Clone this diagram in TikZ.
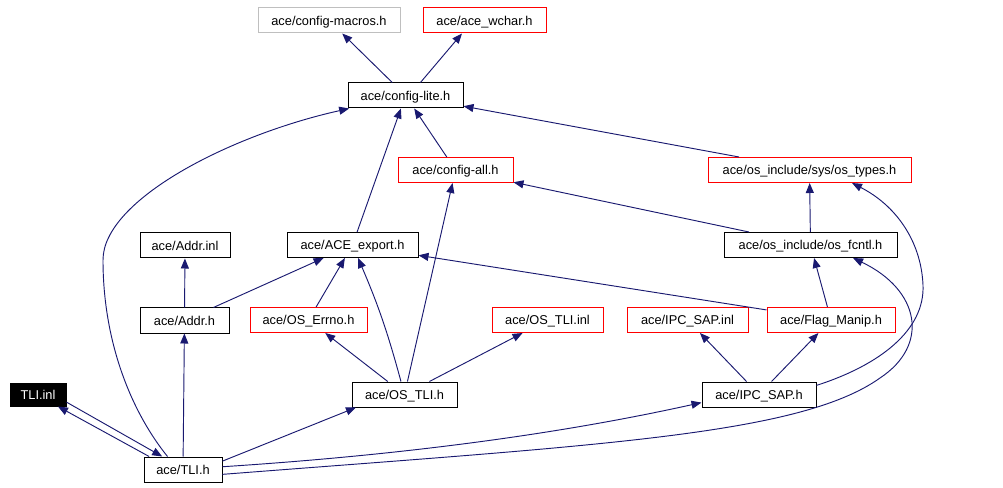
\documentclass[tikz,border=0pt]{standalone}
\usepackage{fontspec}
\setmainfont{Liberation Sans}
\usepackage{tikz}
\usetikzlibrary{arrows.meta}
\definecolor{edgeblue}{HTML}{191970}
\definecolor{hdrred}{HTML}{FF0000}
\definecolor{hdrgray}{HTML}{BFBFBF}

\begin{document}
\begin{tikzpicture}[x=0.75pt,y=-0.75pt,
  hdr/.style={draw=black,line width=0.75pt,fill=white,inner sep=0pt,
    minimum height=18.75pt,text height=7.2pt,text depth=0.3pt,
    font=\fontsize{9.6}{11}\selectfont},
  wd/.style={minimum width=#1*0.75pt},
  missing/.style={draw=hdrred},
  dep/.style={edgeblue,line width=0.7pt,-{Triangle[length=7.5pt,width=6pt]}}]
\useasboundingbox (0,0) rectangle (1003,488);
% headers, top row down
\node[hdr,wd=142,draw=hdrgray] (cmacros) at (329,20.5) {ace/config-macros.h};
\node[hdr,wd=123,missing] (wchar) at (484.5,20.5) {ace/ace\_wchar.h};
\node[hdr,wd=115] (clite) at (405.5,95.5) {ace/config-lite.h};
\node[hdr,wd=115,missing] (call) at (455.5,170) {ace/config-all.h};
\node[hdr,wd=203,missing] (ostypes) at (809.5,170) {ace/os\_include/sys/os\_types.h};
\node[hdr,wd=90] (addrinl) at (185,245.5) {ace/Addr.inl};
\node[hdr,wd=131] (aceexport) at (352.5,245) {ace/ACE\_export.h};
\node[hdr,wd=173] (osfcntl) at (810.5,245) {ace/os\_include/os\_fcntl.h};
\node[hdr,wd=89] (addrh) at (184.5,320.5) {ace/Addr.h};
\node[hdr,wd=117,missing] (oserrno) at (308.5,320) {ace/OS\_Errno.h};
\node[hdr,wd=111,missing] (ostliinl) at (547.5,320) {ace/OS\_TLI.inl};
\node[hdr,wd=121,missing] (ipcsapinl) at (687.5,320) {ace/IPC\_SAP.inl};
\node[hdr,wd=128,missing] (flagmanip) at (831,320) {ace/Flag\_Manip.h};
\node[hdr,wd=56,minimum height=17.25pt,fill=black,text=white] (tliinl) at (38,394.5) {TLI.inl};
\node[hdr,wd=105] (ostlih) at (404.5,394.5) {ace/OS\_TLI.h};
\node[hdr,wd=114] (ipcsaph) at (759,394.5) {ace/IPC\_SAP.h};
\node[hdr,wd=78] (tlih) at (183,469.5) {ace/TLI.h};
% includes
\draw[dep] (clite) -- (cmacros);
\draw[dep] (clite.41) -- (wchar.-150);
\draw[dep] (call) -- (clite);
\draw[dep] (ostypes) -- (clite);
\draw[dep] (aceexport) -- (clite);
\draw[dep] (tlih.140) .. controls (130,410) and (103,340) .. (103,260)
  .. controls (103,200) and (230,135) .. (clite.-167);
\draw[dep] (osfcntl) -- (ostypes);
\draw[dep] (osfcntl) -- (call);
\draw[dep] (ostlih) -- (call);
\draw[dep] (addrh) -- (addrinl);
\draw[dep] (addrh) -- (aceexport);
\draw[dep] (oserrno) -- (aceexport);
\draw[dep] (ostlih) to[bend right=4] (aceexport);
\draw[dep] (flagmanip) -- (aceexport);
\draw[dep] (flagmanip) -- (osfcntl);
\draw[dep] (ostlih) -- (oserrno);
\draw[dep] (ostlih) -- (ostliinl);
\draw[dep] (ipcsaph) -- (ipcsapinl);
\draw[dep] (ipcsaph) -- (flagmanip);
\draw[dep] (ipcsaph.9) .. controls (880,365) and (925,330) .. (923,285)
  .. controls (921,240) and (895,205) .. (ostypes.-17);
\draw[dep] (tliinl.-15) -- (tlih.148);
\draw[dep] (tlih.159) -- (tliinl.-31);
\draw[dep] (tlih) -- (addrh);
\draw[dep] (tlih.12) -- (ostlih.-165);
\draw[dep] (tlih.4) .. controls (450,452) and (600,425) .. (ipcsaph.-172);
\draw[dep] (tlih.-7) .. controls (600,445) and (800,435) .. (880,378)
  .. controls (930,345) and (920,290) .. (osfcntl.-17);
\end{tikzpicture}
\end{document}
